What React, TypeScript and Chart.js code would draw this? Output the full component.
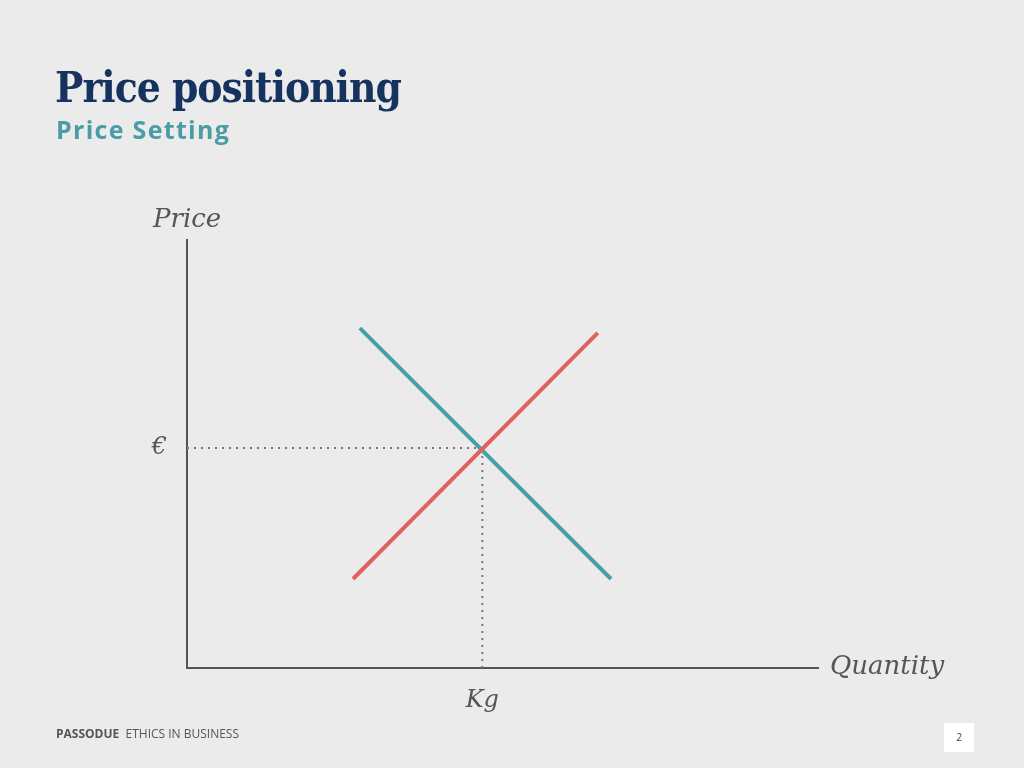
import React, { useEffect, useRef } from "react";
import { Chart, registerables } from "chart.js";

Chart.register(...registerables);

// ---- data ----
const SUPPLY_Q = [26.3, 65.1];
const SUPPLY_P = [20.8, 78.3];
const DEMAND_Q = [27.4, 67.2];
const DEMAND_P = [79.4, 20.8];
const EQ_Q = 46.8;
const EQ_P = 51.4;
const X_TICK_LABELS = ["Kg"];
const Y_TICK_LABELS = ["€"];
const X_AXIS_LABEL = "Quantity";
const Y_AXIS_LABEL = "Price";
const TITLE = "Price positioning";
const SUBTITLE = "Price Setting";
const FOOTER_BRAND = "PASSODUE";
const FOOTER_TEXT = "ETHICS IN BUSINESS";
const PAGE_NUMBER = "2";

const RED = "#e0625c";
const TEAL = "#47a0a8";
const AXIS = "#555555";
const LABEL_FONT = '"DejaVu Serif", serif';

const axisLabels = {
  id: "axisLabels",
  afterDraw(chart: any) {
    const { ctx, chartArea } = chart;
    const { left, right, top, bottom } = chartArea;
    ctx.save();
    ctx.fillStyle = AXIS;
    ctx.font = `italic 26px ${LABEL_FONT}`;
    ctx.textBaseline = "alphabetic";
    ctx.textAlign = "left";
    ctx.fillText(Y_AXIS_LABEL, left - 34, top - 13);
    ctx.fillText(X_AXIS_LABEL, right + 12, bottom + 6);
    ctx.restore();
  },
};

export default function App() {
  const ref = useRef<HTMLCanvasElement | null>(null);

  useEffect(() => {
    if (!ref.current) return;
    const chart = new Chart(ref.current, {
      type: "line",
      data: {
        datasets: [
          {
            label: "Supply",
            data: SUPPLY_Q.map((q, i) => ({ x: q, y: SUPPLY_P[i] })),
            borderColor: RED,
            borderWidth: 4,
            pointRadius: 0,
            order: 1,
          },
          {
            label: "Demand",
            data: DEMAND_Q.map((q, i) => ({ x: q, y: DEMAND_P[i] })),
            borderColor: TEAL,
            borderWidth: 4,
            pointRadius: 0,
            order: 1,
          },
          {
            label: "Price guide",
            data: [
              { x: 0, y: EQ_P },
              { x: EQ_Q, y: EQ_P },
            ],
            borderColor: "#777777",
            borderWidth: 2,
            borderDash: [2, 5],
            pointRadius: 0,
            order: 2,
          },
          {
            label: "Quantity guide",
            data: [
              { x: EQ_Q, y: 0 },
              { x: EQ_Q, y: EQ_P },
            ],
            borderColor: "#777777",
            borderWidth: 2,
            borderDash: [2, 5],
            pointRadius: 0,
            order: 2,
          },
        ],
      },
      options: {
        responsive: false,
        animation: false,
        devicePixelRatio: 1,
        layout: { padding: { left: 127, top: 240, right: 206, bottom: 40 } },
        plugins: { legend: { display: false }, tooltip: { enabled: false } },
        scales: {
          x: {
            type: "linear",
            min: 0,
            max: 100,
            grid: { display: false, drawTicks: false },
            border: { display: true, color: AXIS, width: 2 },
            afterBuildTicks: (s: any) => {
              s.ticks = [{ value: EQ_Q }];
            },
            afterFit: (s: any) => {
              s.height = 60;
            },
            ticks: {
              callback: (_v: any, i: number) => X_TICK_LABELS[i],
              padding: 18,
              color: AXIS,
              maxRotation: 0,
              font: { family: LABEL_FONT, style: "italic", size: 24 },
            },
          },
          y: {
            type: "linear",
            min: 0,
            max: 100,
            grid: { display: false, drawTicks: false },
            border: { display: true, color: AXIS, width: 2 },
            afterBuildTicks: (s: any) => {
              s.ticks = [{ value: EQ_P }];
            },
            afterFit: (s: any) => {
              s.width = 60;
            },
            ticks: {
              callback: (_v: any, i: number) => Y_TICK_LABELS[i],
              padding: 20,
              color: AXIS,
              font: { family: LABEL_FONT, style: "italic", size: 24 },
            },
          },
        },
      },
      plugins: [axisLabels],
    } as any);
    return () => chart.destroy();
  }, []);

  return (
    <div
      style={{
        position: "fixed",
        left: 0,
        top: 0,
        width: 1024,
        height: 768,
        background: "#ebebeb",
        overflow: "hidden",
      }}
    >
      <canvas
        ref={ref}
        width={1024}
        height={768}
        style={{ position: "absolute", left: 0, top: 0, width: 1024, height: 768 }}
      />
      <div
        style={{
          position: "absolute",
          left: 55,
          top: 67,
          fontFamily: '"DejaVu Serif Condensed", "DejaVu Serif", serif',
          fontStretch: "condensed",
          fontWeight: 700,
          fontSize: 42,
          lineHeight: "42px",
          letterSpacing: "-1px",
          color: "#16335f",
          whiteSpace: "nowrap",
        }}
      >
        {TITLE}
      </div>
      <div
        style={{
          position: "absolute",
          left: 56,
          top: 115,
          fontFamily: '"Open Sans", sans-serif',
          fontWeight: 700,
          fontSize: 25,
          lineHeight: "28px",
          letterSpacing: "1.3px",
          color: "#4b9ca5",
          whiteSpace: "nowrap",
        }}
      >
        {SUBTITLE}
      </div>
      <div
        style={{
          position: "absolute",
          left: 56,
          top: 726,
          fontFamily: '"Open Sans", sans-serif',
          fontSize: 12,
          lineHeight: "16px",
          color: "#555",
          whiteSpace: "pre",
        }}
      >
        <span style={{ fontWeight: 700 }}>{FOOTER_BRAND}</span>
        {"  " + FOOTER_TEXT}
      </div>
      <div
        style={{
          position: "absolute",
          left: 944,
          top: 723,
          width: 30,
          height: 29,
          background: "#ffffff",
          fontFamily: '"Open Sans", sans-serif',
          fontSize: 10,
          lineHeight: "29px",
          textAlign: "center",
          color: "#444",
        }}
      >
        {PAGE_NUMBER}
      </div>
    </div>
  );
}
